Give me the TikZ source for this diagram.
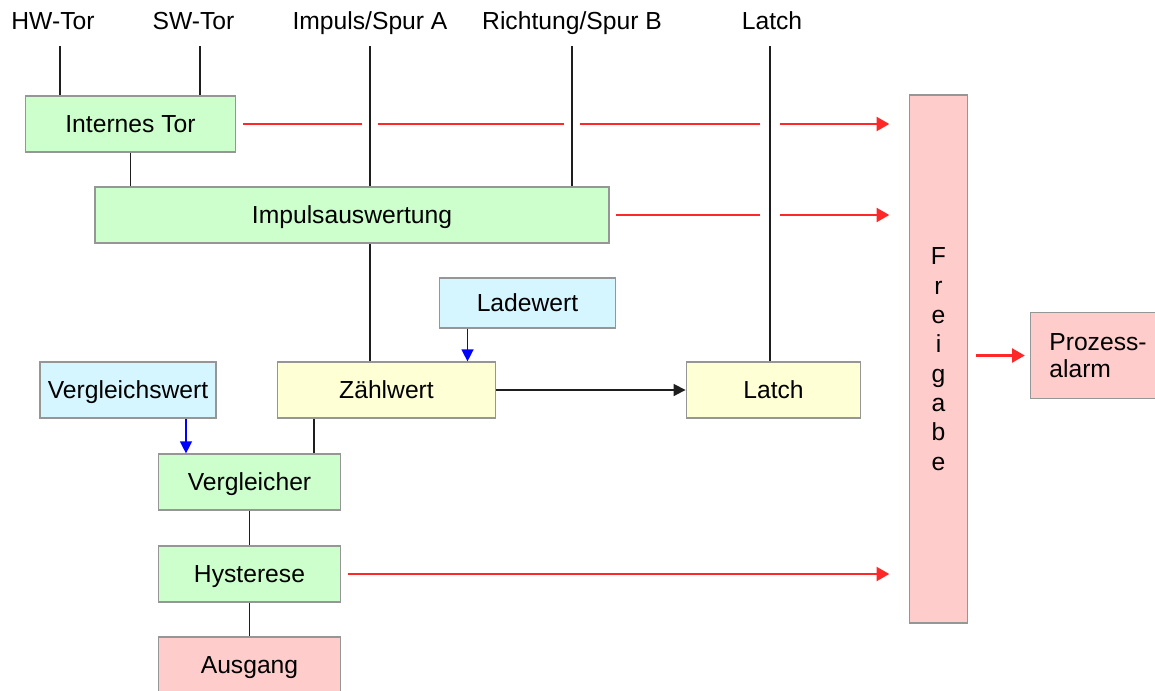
\documentclass[tikz,border=0pt]{standalone}
\usepackage{fontspec}
\setmainfont{Liberation Sans}
\usetikzlibrary{arrows.meta,positioning,backgrounds}
\definecolor{grnfill}{RGB}{204,255,204}
\definecolor{yelfill}{RGB}{255,255,213}
\definecolor{blufill}{RGB}{213,245,255}
\definecolor{redfill}{RGB}{255,204,204}
\definecolor{boxbdr}{RGB}{150,150,150}
\definecolor{linclr}{RGB}{30,30,30}
\definecolor{sigred}{RGB}{255,40,40}
\definecolor{sigblu}{RGB}{0,0,255}
\tikzset{
  blk/.style={rectangle,draw=boxbdr,line width=0.9pt,
    minimum height=42pt,inner sep=0pt,
    font=\fontsize{18.5pt}{22pt}\selectfont,text=black},
  cblk/.style={blk,text height=13.3pt,text depth=0pt},
  gblk/.style={cblk,fill=grnfill},
  yblk/.style={cblk,fill=yelfill},
  bblk/.style={cblk,fill=blufill},
  rblk/.style={cblk,fill=redfill},
  lbl/.style={font=\fontsize{18.5pt}{22pt}\selectfont,anchor=base,inner sep=0pt},
  wire/.style={line width=1.3pt,color=linclr},
  xwire/.style={wire,preaction={draw=white,line width=12pt}},
  arr/.style={-{Triangle[length=9pt,width=9pt]},line width=1.3pt,color=linclr},
  barr/.style={-{Triangle[length=9pt,width=9pt]},line width=1pt,color=sigblu},
  rarr/.style={-{Triangle[length=9.5pt,width=10.5pt]},line width=1.6pt,color=sigred,
    shorten <=5pt,shorten >=15pt},
}
\begin{document}
\begin{tikzpicture}[x=0.75pt,y=-0.75pt]
  \useasboundingbox (0,0) rectangle (1155,690);
  \clip (0,0) rectangle (1155,690);

  % inputs
  \node[lbl] (hwtor) at (53,29)    {HW-Tor};
  \node[lbl] (swtor) at (193.5,29) {SW-Tor};
  \node[lbl] (impA)  at (370,29)   {Impuls/Spur A};
  \node[lbl] (richB) at (572,29)   {Richtung/Spur B};
  \node[lbl] (ltin)  at (772,29)   {Latch};
  \coordinate (hwin) at (60,46);
  \coordinate (swin) at (200,46);
  \coordinate (ain)  at (370,46);
  \coordinate (bin)  at (572,46);
  \coordinate (lin)  at (770,46);

  % blocks
  \node[gblk,minimum width=158pt]   (itor)   at (130.5,124) {Internes Tor};
  \node[gblk,minimum width=385.5pt] (impaus) at (352,215)   {Impulsauswertung};
  \node[bblk,minimum width=132pt,minimum height=37.5pt] (ladew) at (527.5,303) {Ladewert};
  \node[bblk,minimum width=132pt]   (vglw)   at (128,390)   {Vergleichswert};
  \node[yblk,minimum width=163pt]   (zaehl)  at (386.5,390) {Zählwert};
  \node[yblk,minimum width=131pt]   (latch)  at (773.5,390) {Latch};
  \node[gblk,minimum width=137pt]   (vgl)    at (249.5,482) {Vergleicher};
  \node[gblk,minimum width=137pt]   (hyst)   at (249.5,574) {Hysterese};
  \node[rblk,minimum width=137pt]   (ausg)   at (249.5,665) {Ausgang};
  \node[blk,fill=redfill,minimum width=43pt,minimum height=396pt,align=center]
    (frei) at (938.5,359) {F\\r\\e\\i\\g\\a\\b\\e};
  \node[blk,fill=redfill,minimum height=64pt,text width=76pt,inner xsep=14pt,
    align=left,font=\fontsize{18.5pt}{20pt}\selectfont]
    (proz) at (1100,355.5) {Prozess-\\alarm};

  \begin{scope}[on background layer]
    \draw[rarr] (itor.east) -- (itor.east -| frei.west);
    \draw[rarr] (impaus.east) -- (impaus.east -| frei.west);
    \draw[rarr] (hyst.east) -- (hyst.east -| frei.west);
    \draw[xwire] (hwin) -- (hwin |- itor.north);
    \draw[xwire] (swin) -- (swin |- itor.north);
    \draw[xwire] (ain) -- (ain |- zaehl.north);
    \draw[xwire] (bin) -- (bin |- impaus.north);
    \draw[xwire,preaction={draw=white,line width=15pt,xshift=3pt}] (lin) -- (lin |- latch.north);
  \end{scope}

  \draw[wire] (itor.south) -- (itor.south |- impaus.north);
  \draw[wire] ([xshift=-54.4pt]zaehl.south) -- ([xshift=-54.4pt]zaehl.south |- vgl.north);
  \draw[wire] (vgl) -- (hyst);
  \draw[wire] (hyst) -- (ausg);
  \draw[barr] ([xshift=-45pt]ladew.south) -- ([xshift=-45pt]ladew.south |- zaehl.north);
  \draw[barr] ([xshift=43.5pt]vglw.south) -- ([xshift=43.5pt]vglw.south |- vgl.north);
  \draw[arr] (zaehl) -- (latch);
  \draw[rarr,shorten <=6pt,shorten >=4pt] (proz.west -| frei.east) -- (proz.west);
\end{tikzpicture}
\end{document}
